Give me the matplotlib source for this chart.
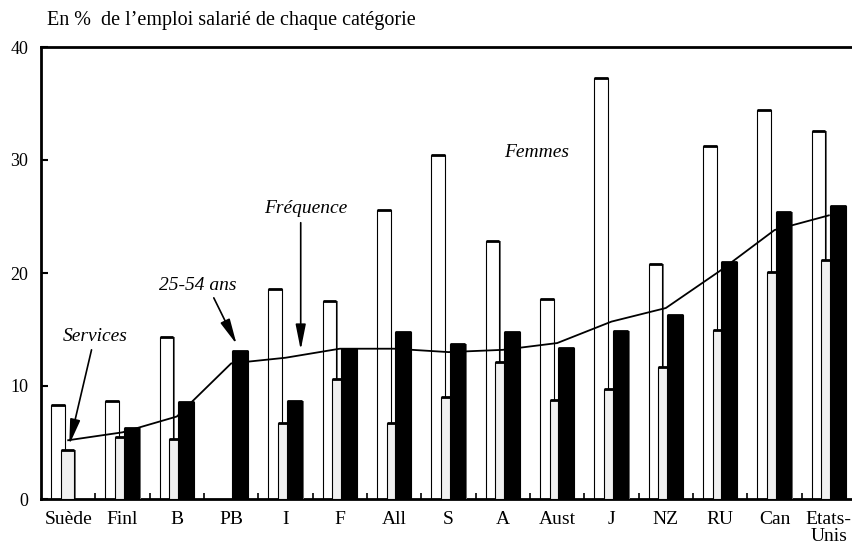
import numpy as np
import matplotlib
matplotlib.use('Agg')
import matplotlib.pyplot as plt

plt.rcParams['font.family'] = ['Liberation Serif', 'DejaVu Serif']

pays = ['Suède', 'Finl', 'B', 'PB', 'I', 'F', 'All', 'S', 'A', 'Aust',
        'J', 'NZ', 'RU', 'Can', 'Etats-\nUnis']
femmes = [8.3, 8.7, 14.3, np.nan, 18.6, 17.5, 25.6, 30.4, 22.8, 17.7,
          37.3, 20.8, 31.2, 34.4, 32.6]
services = [4.3, 5.5, 5.3, np.nan, 6.7, 10.6, 6.7, 9.05, 12.15, 8.8,
            9.7, 11.7, 15.0, 20.1, 21.15]
ans_25_54 = [np.nan, 6.3, 8.6, 13.1, 8.7, 13.3, 14.75, 13.7, 14.8, 13.4,
             14.9, 16.3, 21.0, 25.4, 25.9]
frequence = [5.2, 5.9, 7.3, 12.0, 12.5, 13.3, 13.3, 13.0, 13.2, 13.8,
             15.7, 16.9, 20.2, 23.8, 25.1]

x = np.arange(len(pays))

fig = plt.figure(figsize=(8.53, 5.46), dpi=100)
ax = fig.add_axes([41 / 853, 47 / 546, 815 / 853, 452 / 546])

def barres(pos, vals, w, fill, z):
    vals = np.array(vals)
    # ombre grise a droite
    ax.bar(pos + 0.025, vals, w, color='#707070', zorder=z - 0.5, linewidth=0)
    ax.bar(pos, vals, w, color=fill, edgecolor='black', linewidth=0.8, zorder=z)
    ok = ~np.isnan(vals)
    ax.hlines(vals[ok], pos[ok] - w / 2, pos[ok] + w / 2, color='black',
              linewidth=2, zorder=z + 0.1)

barres(x - 0.19, femmes, 0.25, 'white', 2)
barres(x - 0.01, services, 0.25, '#f0f0f0', 3)
barres(x + 0.165, ans_25_54, 0.29, 'black', 4)

ax.plot(x, frequence, color='black', linewidth=1.3, zorder=6)

ax.set_xlim(-0.5, 14.5)
ax.set_ylim(0, 40)
ax.set_yticks([0, 10, 20, 30, 40])
ax.tick_params(axis='y', direction='in', length=5, width=1.5, pad=9, labelsize=13)
ax.set_xticks(x[:-1] + 0.5)
ax.set_xticklabels([])
ax.set_xticks(x, minor=True)
ax.set_xticklabels(pays, minor=True, fontsize=14, va='top', linespacing=0.95)
ax.tick_params(axis='x', which='major', direction='in', length=4, width=1.2)
ax.tick_params(axis='x', which='minor', length=0, pad=9)
for s in ['left', 'bottom', 'top']:
    ax.spines[s].set_linewidth(2)
ax.spines['right'].set_visible(False)

fig.text(47 / 853, 1 - 20 / 546, "En %  de l\u2019emploi salarié de chaque catégorie",
         fontsize=14.5, va='center', ha='left')

kw = dict(fontsize=14, style='italic', ha='center', va='center')
ax.text(8.63, 30.7, 'Femmes', **kw)
ax.text(4.38, 25.75, 'Fréquence', **kw)
ax.text(2.39, 18.9, '25-54 ans', **kw)
ax.text(0.49, 14.4, 'Services', **kw)

arr = dict(arrowstyle='-|>,head_length=1.1,head_width=0.22', color='black',
           lw=1.2, mutation_scale=14, shrinkA=0, shrinkB=0)
ax.annotate('', xy=(4.28, 13.2), xytext=(4.28, 24.45), arrowprops=arr, zorder=7)
ax.annotate('', xy=(3.1, 13.7), xytext=(2.68, 17.8), arrowprops=arr, zorder=7)
ax.annotate('', xy=(0.02, 4.8), xytext=(0.43, 13.2), arrowprops=arr, zorder=7)

fig.savefig('out.png', dpi=100)
